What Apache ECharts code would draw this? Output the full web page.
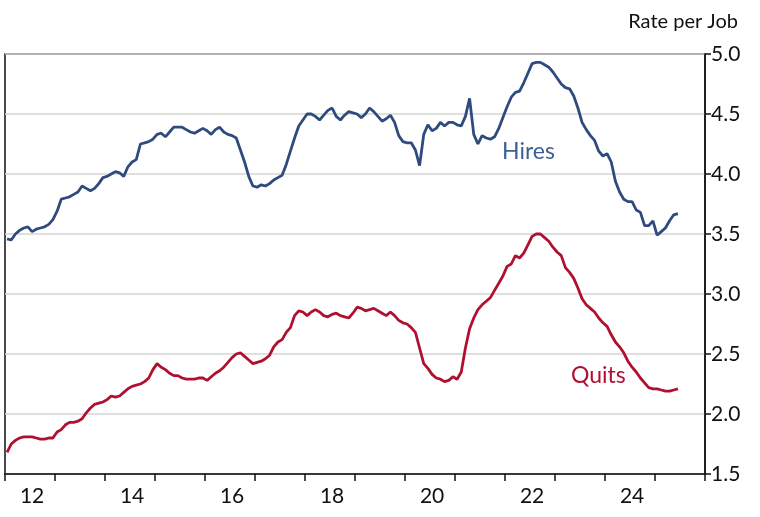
<!DOCTYPE html>
<html>
<head>
<meta charset="utf-8">
<script src="https://cdn.jsdelivr.net/npm/echarts@6/dist/echarts.min.js"></script>
<style>
  html, body { margin: 0; padding: 0; background: #fff; }
  #chart { width: 760px; height: 517px; }
</style>
</head>
<body>
<div id="chart"></div>
<script>
// monthly, Jan 2012 - Dec 2025 (data runs to Jun 2025)
const years = [2012, 2013, 2014, 2015, 2016, 2017, 2018, 2019, 2020, 2021, 2022, 2023, 2024, 2025]

const hires = [
  3.46, 3.45, 3.50, 3.53, 3.55, 3.56, 3.52, 3.54, 3.55, 3.56, 3.58, 3.62,
  3.69, 3.79, 3.80, 3.81, 3.83, 3.85, 3.90, 3.88, 3.86, 3.88, 3.92, 3.97,
  3.98, 4.00, 4.02, 4.01, 3.98, 4.06, 4.10, 4.12, 4.25, 4.26, 4.27, 4.29,
  4.33, 4.34, 4.31, 4.35, 4.39, 4.39, 4.39, 4.37, 4.35, 4.34, 4.36, 4.38,
  4.36, 4.33, 4.37, 4.39, 4.35, 4.33, 4.32, 4.30, 4.20, 4.10, 3.98, 3.90,
  3.89, 3.91, 3.90, 3.92, 3.95, 3.97, 3.99, 4.08, 4.19, 4.30, 4.40, 4.45,
  4.50, 4.50, 4.48, 4.45, 4.49, 4.53, 4.55, 4.48, 4.45, 4.49, 4.52, 4.51,
  4.50, 4.47, 4.50, 4.55, 4.52, 4.48, 4.44, 4.46, 4.49, 4.43, 4.32, 4.27,
  4.26, 4.26, 4.20, 4.07, 4.33, 4.41, 4.36, 4.38, 4.43, 4.40, 4.43, 4.43,
  4.41, 4.40, 4.48, 4.63, 4.33, 4.25, 4.32, 4.30, 4.29, 4.31, 4.38, 4.47,
  4.56, 4.64, 4.68, 4.69, 4.76, 4.84, 4.92, 4.93, 4.93, 4.91, 4.89, 4.85,
  4.80, 4.75, 4.72, 4.71, 4.65, 4.55, 4.43, 4.37, 4.32, 4.28, 4.19, 4.15,
  4.17, 4.10, 3.94, 3.85, 3.79, 3.77, 3.77, 3.70, 3.68, 3.57, 3.57, 3.61,
  3.49, 3.52, 3.55, 3.61, 3.66, 3.67
]

const quits = [
  1.68, 1.75, 1.78, 1.80, 1.81, 1.81, 1.81, 1.80, 1.79, 1.79, 1.80, 1.80,
  1.85, 1.87, 1.91, 1.93, 1.93, 1.94, 1.96, 2.01, 2.05, 2.08, 2.09, 2.10,
  2.12, 2.15, 2.14, 2.15, 2.18, 2.21, 2.23, 2.24, 2.25, 2.27, 2.30, 2.37,
  2.42, 2.39, 2.37, 2.34, 2.32, 2.32, 2.30, 2.29, 2.29, 2.29, 2.30, 2.30,
  2.28, 2.31, 2.34, 2.36, 2.39, 2.43, 2.47, 2.50, 2.51, 2.48, 2.45, 2.42,
  2.43, 2.44, 2.46, 2.49, 2.56, 2.60, 2.62, 2.68, 2.72, 2.82, 2.86, 2.85,
  2.82, 2.85, 2.87, 2.85, 2.82, 2.81, 2.83, 2.84, 2.82, 2.81, 2.80, 2.84,
  2.89, 2.88, 2.86, 2.87, 2.88, 2.86, 2.84, 2.82, 2.85, 2.82, 2.78, 2.76,
  2.75, 2.72, 2.68, 2.55, 2.42, 2.38, 2.33, 2.30, 2.29, 2.27, 2.28, 2.31,
  2.29, 2.35, 2.55, 2.71, 2.80, 2.87, 2.91, 2.94, 2.97, 3.03, 3.09, 3.15,
  3.23, 3.25, 3.32, 3.30, 3.34, 3.41, 3.48, 3.50, 3.50, 3.47, 3.44, 3.39,
  3.35, 3.32, 3.22, 3.18, 3.13, 3.05, 2.96, 2.91, 2.88, 2.85, 2.80, 2.76,
  2.73, 2.66, 2.60, 2.56, 2.51, 2.44, 2.39, 2.35, 2.30, 2.26, 2.22, 2.21,
  2.21, 2.20, 2.19, 2.19, 2.20, 2.21
]

const yMin = 1.5
const yMax = 5.0
const yStep = 0.5

let months = []
years.forEach(y => {
  for (let m = 1; m <= 12; m++) {
    months.push(y + '-' + (m < 10 ? '0' + m : m))
  }
})

const blue = '#2f4b7e'
const red = '#b01030'
const font = 'Lato, "Open Sans", sans-serif'

const chart = echarts.init(document.getElementById('chart'))

let option = {
  animation: false,
  title: {
    text: 'Rate per Job',
    right: 17,
    top: 7,
    textStyle: { fontFamily: font, fontSize: 20, fontWeight: 'normal', color: '#111' }
  },
  grid: {
    left: 5,
    right: 55,
    top: 54,
    bottom: 43,
    show: true,
    borderColor: '#111',
    borderWidth: 1.5
  },
  xAxis: {
    type: 'category',
    data: months,
    boundaryGap: true,
    axisLine: { lineStyle: { color: '#111', width: 1.5 } },
    axisTick: {
      show: true,
      length: 7,
      interval: function (index) { return index % 12 === 0 },
      lineStyle: { color: '#111', width: 1.5 }
    },
    axisLabel: {
      // one label every two years, centred in its year
      interval: function (index) { return index % 24 === 6 },
      formatter: function (v) { return v.slice(2, 4) },
      fontFamily: font,
      fontSize: 21,
      color: '#111',
      margin: 12
    },
    splitLine: { show: false }
  },
  yAxis: {
    type: 'value',
    position: 'right',
    min: yMin,
    max: yMax,
    interval: yStep,
    axisLine: { show: true, lineStyle: { color: '#111', width: 1.5 } },
    axisTick: { show: true, length: 6, lineStyle: { color: '#111', width: 1.5 } },
    axisLabel: {
      formatter: function (v) { return v.toFixed(1) },
      fontFamily: font,
      fontSize: 21,
      color: '#111',
      margin: 6
    },
    splitLine: { lineStyle: { color: '#d4d4d4', width: 1.5 } }
  },
  series: [
    {
      name: 'Hires',
      type: 'line',
      data: hires,
      symbol: 'none',
      lineStyle: { color: blue, width: 2.8 }
    },
    {
      name: 'Quits',
      type: 'line',
      data: quits,
      symbol: 'none',
      lineStyle: { color: red, width: 2.8 }
    }
  ],
  graphic: [
    {
      type: 'text',
      left: 502,
      top: 140,
      style: { text: 'Hires', fontFamily: font, fontSize: 23, fill: '#3e5f93' }
    },
    {
      type: 'text',
      left: 571,
      top: 364,
      style: { text: 'Quits', fontFamily: font, fontSize: 23, fill: red }
    }
  ]
}

chart.setOption(option)
</script>
</body>
</html>
